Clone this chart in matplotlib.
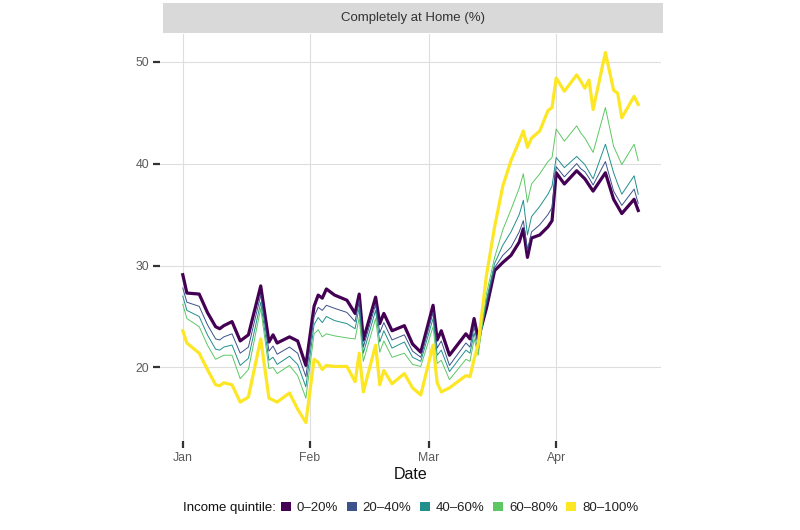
import numpy as np
import pandas as pd
import matplotlib
matplotlib.use("Agg")
import matplotlib.pyplot as plt
import matplotlib.dates as mdates
from matplotlib.patches import Patch, Rectangle

plt.rcParams["font.family"] = ["Liberation Sans", "DejaVu Sans"]

# ----------------------------------------------------------------------
# Data (days since 2020-01-01, % completely at home)
# ----------------------------------------------------------------------
day_offset = [0, 1, 4, 6, 8, 9, 10, 12, 14, 16, 19, 21, 22, 23, 26, 28, 30,
              32, 33, 34, 35, 37, 40, 42, 43, 44, 47, 48, 49, 51, 54, 56, 58,
              61, 62, 63, 65, 69, 70, 71, 72, 74, 76, 78, 80, 82, 83, 84, 85,
              87, 89, 90, 91, 93, 96, 97, 98, 99, 100, 103, 105, 106, 107,
              110, 111]

q_0_20 = [29.1, 27.3, 27.2, 25.4, 24.0, 23.8, 24.1, 24.5, 22.6, 23.2, 28.0,
          22.5, 23.2, 22.4, 23.0, 22.6, 20.2,
          26.0, 27.1, 26.8, 27.7, 27.1, 26.6, 25.3, 27.2, 22.7, 26.9, 24.3,
          25.3, 23.6, 24.1, 22.3, 21.5,
          26.1, 22.7, 23.6, 21.2, 23.3, 22.8, 24.8, 22.8, 25.8, 29.5, 30.3,
          31.0, 32.3, 33.6, 30.8, 32.7,
          33.0, 33.8, 34.4, 39.1, 38.0, 39.3, 38.9, 38.5, 37.9, 37.3, 39.1,
          36.5, 35.8, 35.1, 36.5, 35.4]

q_20_40 = [27.8, 26.4, 26.0, 24.2, 22.8, 22.7, 23.0, 23.3, 21.4, 22.0, 27.1,
           21.6, 22.1, 21.3, 22.0, 21.4, 19.1,
           25.0, 25.9, 25.6, 26.1, 25.8, 25.4, 24.5, 26.6, 22.0, 26.2, 23.4,
           24.4, 22.7, 23.2, 21.6, 21.0,
           25.4, 21.9, 22.6, 20.2, 22.4, 22.0, 24.0, 22.2, 26.2, 29.8, 31.0,
           31.8, 33.3, 34.4, 31.5, 33.3,
           34.0, 35.0, 35.7, 39.7, 38.7, 40.0, 39.5, 39.2, 38.6, 37.9, 40.2,
           37.3, 36.6, 35.9, 37.5, 36.1]

q_40_60 = [27.0, 25.6, 25.0, 23.2, 21.8, 21.7, 22.0, 22.2, 20.2, 20.9, 26.4,
           20.7, 21.0, 20.3, 21.1, 20.3, 18.1,
           24.2, 24.9, 24.4, 25.0, 24.6, 24.3, 23.8, 25.9, 21.4, 25.6, 22.5,
           23.6, 21.9, 22.5, 21.0, 20.6,
           24.8, 21.2, 21.7, 19.6, 21.7, 21.4, 23.4, 21.6, 26.6, 30.2, 32.0,
           33.3, 35.0, 36.4, 33.0, 34.8,
           35.8, 37.0, 37.8, 40.6, 39.6, 40.7, 40.3, 39.9, 39.2, 38.5, 41.9,
           39.1, 38.0, 37.0, 38.8, 37.0]

q_60_80 = [26.2, 24.8, 24.0, 22.2, 20.8, 21.0, 21.2, 21.2, 18.9, 19.8, 25.8,
           19.9, 20.0, 19.4, 20.2, 19.2, 17.0,
           23.3, 23.7, 23.0, 23.3, 23.1, 22.9, 22.8, 24.9, 20.6, 24.8, 21.5,
           22.6, 21.0, 21.4, 20.3, 20.1,
           24.0, 20.4, 20.7, 18.8, 20.8, 20.6, 22.8, 21.2, 27.2, 30.8, 33.5,
           35.5, 37.6, 39.0, 36.2, 38.0,
           39.0, 40.2, 40.6, 43.4, 42.2, 43.7, 43.0, 42.5, 41.8, 41.1, 45.5,
           41.7, 40.8, 39.9, 41.9, 40.3]

q_80_100 = [23.6, 22.4, 21.4, 19.8, 18.3, 18.2, 18.5, 18.3, 16.6, 17.1, 22.8,
            17.0, 16.8, 16.6, 17.5, 15.9, 14.6,
            20.8, 20.5, 19.8, 20.2, 20.1, 20.1, 18.6, 21.4, 17.6, 22.2, 18.3,
            19.7, 18.4, 19.4, 18.0, 17.3,
            22.2, 18.5, 17.6, 18.0, 19.2, 19.1, 20.8, 22.3, 29.0, 33.8, 37.8,
            40.3, 42.2, 43.2, 41.6, 42.5,
            43.2, 45.2, 45.5, 48.4, 47.1, 48.7, 48.1, 47.4, 48.2, 45.3, 50.9,
            47.2, 46.9, 44.5, 46.6, 45.8]

quintile_labels = ["0\u201320%", "20\u201340%", "40\u201360%", "60\u201380%", "80\u2013100%"]
quintile_colors = ["#440154", "#3B528B", "#21908C", "#5DC863", "#FDE725"]
y_ticks = [20, 30, 40, 50]

series = [q_0_20, q_20_40, q_40_60, q_60_80, q_80_100]
dates = pd.Timestamp("2020-01-01") + pd.to_timedelta(day_offset, unit="D")

# ----------------------------------------------------------------------
# Figure
# ----------------------------------------------------------------------
W, H = 800, 530
fig = plt.figure(figsize=(W / 100, H / 100), dpi=100)
ax = fig.add_axes([160 / W, 1 - 441 / H, 501 / W, 407 / H])

widths = [2.3, 0.7, 0.7, 0.7, 2.3]
for vals, col, lw in zip(series, quintile_colors, widths):
    ax.plot(dates, vals, color=col, linewidth=lw, solid_joinstyle="round")

ymin = min(min(s) for s in series)
ymax = max(max(s) for s in series)
pad = (ymax - ymin) * 0.05
ax.set_ylim(ymin - pad, ymax + pad)
d0, d1 = dates.min(), dates.max()
xpad = (d1 - d0) * 0.05
ax.set_xlim(d0 - xpad, d1 + xpad)

ax.set_yticks(y_ticks)
ax.xaxis.set_major_locator(mdates.MonthLocator())
ax.xaxis.set_major_formatter(mdates.DateFormatter("%b"))

for s in ax.spines.values():
    s.set_visible(False)
ax.grid(True, color="#DEDEDE", linewidth=0.8)
ax.set_axisbelow(True)
ax.tick_params(axis="both", length=5, width=1.6, color="#333333",
               labelcolor="#5A5A5A", labelsize=8.8, pad=3)
ax.tick_params(axis="x", pad=9.5)
for lbl in ax.get_xticklabels():
    lbl.set_verticalalignment("baseline")
ax.set_xlabel("Date", fontsize=11.5, color="#111111", labelpad=2)

# facet strip
strip = Rectangle((163 / W, 1 - 33 / H), 500 / W, 30 / H, transform=fig.transFigure,
                  facecolor="#D9D9D9", edgecolor="none")
fig.patches.append(strip)
fig.text(413 / W, 1 - 18 / H, "Completely at Home (%)", ha="center", va="center",
         fontsize=9.5, color="#333333")

# legend
handles = [Patch(facecolor=c, edgecolor="none") for c in quintile_colors]
fig.text(276 / W, 1 - 508 / H, "Income quintile:", ha="right", va="center",
         fontsize=9.5, color="#111111")
fig.legend(handles, quintile_labels, loc="center left", ncol=5,
           bbox_to_anchor=(281 / W, 1 - 508 / H), frameon=False,
           handlelength=0.75, handleheight=0.75, handletextpad=0.45,
           columnspacing=0.65, fontsize=9.5, labelcolor="#222222",
           borderaxespad=0, borderpad=0)

fig.savefig("out.png", dpi=100)
